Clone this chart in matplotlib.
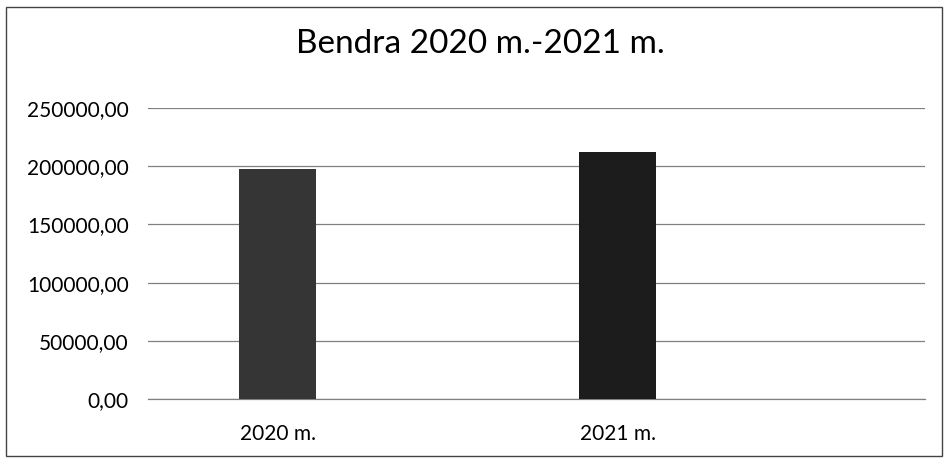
import matplotlib.pyplot as plt
import matplotlib.transforms as mtransforms
from matplotlib.patches import Rectangle

years = ["2020 m.", "2021 m."]
values = [197400, 212000]
y_ticks = [0, 50000, 100000, 150000, 200000, 250000]

plt.rcParams['font.family'] = ['Lato', 'DejaVu Sans']

fig = plt.figure(figsize=(9.48, 4.61), dpi=100)
ax = fig.add_axes([148 / 948, (461 - 399) / 461, (925 - 148) / 948, (399 - 108) / 461])

x = list(range(len(years)))
ax.bar(x, values, width=77 / 340, color=['#353535', '#1c1c1c'], zorder=3)

ax.set_xlim(-0.382, 1.903)
ax.set_ylim(0, 250000)
ax.set_yticks(y_ticks)
ax.set_yticklabels([f"{v:.2f}".replace('.', ',') for v in y_ticks], fontsize=15)
ax.set_xticks(x)
ax.set_xticklabels(years, fontsize=15)
# labels sit a bit right of the bars in the scan
shift = mtransforms.ScaledTranslation(0.49, 0, fig.dpi_scale_trans)
for lbl in ax.get_xticklabels():
    lbl.set_transform(lbl.get_transform() + shift)

ax.tick_params(length=0, pad=18)
ax.tick_params(axis='y', pad=14)
ax.grid(axis='y', color='#808080', lw=0.9, zorder=0)
ax.axhline(0, color='#808080', lw=0.9, zorder=1, clip_on=False)
for s in ax.spines.values():
    s.set_visible(False)

fig.text(0.507, 0.905, "Bendra 2020 m.-2021 m.", ha='center', va='center', fontsize=24)

fig.patches.append(Rectangle((0.006, 0.01), 0.988, 0.975, transform=fig.transFigure,
                             fill=False, edgecolor='#444444', lw=1.0))

fig.savefig("out.png", dpi=100)
